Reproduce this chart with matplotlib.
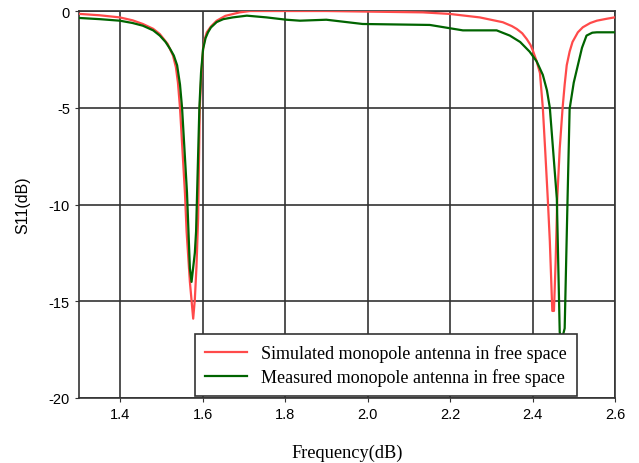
import matplotlib
matplotlib.use("Agg")
import matplotlib.pyplot as plt

# Datos (frecuencia, S11 en dB)
freq_sim = [1.302, 1.35, 1.399, 1.43, 1.455, 1.48, 1.496, 1.515, 1.528, 1.535,
            1.540, 1.545, 1.551, 1.557, 1.561, 1.569, 1.577, 1.581, 1.585, 1.589,
            1.593, 1.597, 1.601, 1.605, 1.610, 1.620, 1.634, 1.655, 1.690, 1.715,
            1.900, 2.134, 2.199, 2.272, 2.328, 2.350, 2.362, 2.375, 2.386, 2.395,
            2.401, 2.410, 2.418, 2.425, 2.431, 2.437, 2.442, 2.448, 2.452, 2.456,
            2.458, 2.460, 2.466, 2.473, 2.478, 2.483, 2.490, 2.497, 2.510, 2.522,
            2.540, 2.556, 2.580, 2.599]
s11_sim = [-0.15, -0.22, -0.33, -0.48, -0.67, -0.92, -1.19, -1.7, -2.3, -2.9,
           -3.7, -5.0, -7.2, -9.4, -11.4, -14.0, -15.9, -14.9, -13.2, -10.7,
           -5.0, -3.2, -1.96, -1.45, -1.1, -0.8, -0.5, -0.25, -0.07, 0.0,
           0.0, -0.07, -0.15, -0.33, -0.58, -0.78, -0.93, -1.15, -1.45, -1.75,
           -2.05, -2.6, -3.2, -5.0, -7.3, -9.7, -11.9, -15.5, -15.5, -13.0,
           -11.4, -9.7, -7.1, -5.0, -3.8, -2.8, -2.1, -1.6, -1.1, -0.84,
           -0.62, -0.5, -0.4, -0.33]

freq_med = [1.302, 1.35, 1.399, 1.43, 1.455, 1.48, 1.496, 1.510, 1.521, 1.530,
            1.538, 1.545, 1.550, 1.562, 1.569, 1.573, 1.581, 1.584, 1.592, 1.596,
            1.601, 1.607, 1.613, 1.620, 1.634, 1.650, 1.673, 1.707, 1.755, 1.803,
            1.836, 1.900, 1.988, 2.151, 2.231, 2.313, 2.345, 2.370, 2.393, 2.410,
            2.425, 2.435, 2.442, 2.450, 2.459, 2.466, 2.471, 2.478, 2.485, 2.490,
            2.500, 2.510, 2.520, 2.531, 2.545, 2.556, 2.599]
s11_med = [-0.36, -0.42, -0.5, -0.62, -0.76, -1.0, -1.27, -1.6, -1.96, -2.3,
           -2.8, -3.8, -5.0, -9.4, -13.3, -14.0, -12.5, -11.4, -5.0, -3.2,
           -1.96, -1.4, -1.1, -0.85, -0.57, -0.42, -0.33, -0.24, -0.33, -0.45,
           -0.5, -0.45, -0.67, -0.72, -1.0, -1.0, -1.27, -1.6, -2.1, -2.6,
           -3.3, -4.1, -5.0, -7.2, -9.7, -16.6, -17.0, -16.4, -9.7, -5.06,
           -3.7, -2.8, -1.9, -1.27, -1.12, -1.1, -1.1]

xticks = [1.4, 1.6, 1.8, 2.0, 2.2, 2.4, 2.6]
yticks = [0, -5, -10, -15, -20]

plt.rcParams['axes.unicode_minus'] = False

fig = plt.figure(figsize=(6.39, 4.64), dpi=100)
ax = fig.add_axes([0.1236, 0.1401, 0.8388, 0.834])

ax.plot(freq_sim, s11_sim, color='#ff4a4a', lw=1.6,
        label='Simulated monopole antenna in free space', zorder=3)
ax.plot(freq_med, s11_med, color='#006400', lw=1.6,
        label='Measured monopole antenna in free space', zorder=3)

ax.set_xlim(1.3, 2.6)
ax.set_ylim(-20, 0)
ax.set_xticks(xticks)
ax.set_xticklabels([f'{t:.1f}' for t in xticks], family='Liberation Sans', fontsize=10.5)
ax.set_yticks(yticks)
ax.set_yticklabels([str(t) for t in yticks], family='Liberation Sans', fontsize=10.5)
ax.tick_params(direction='out', length=3, color='#333333')
ax.grid(True, color='#333333', lw=1.2)
ax.set_axisbelow(True)
for sp in ax.spines.values():
    sp.set_color('#333333')
    sp.set_linewidth(1.2)

ax.set_xlabel('Frequency(dB)', family='Liberation Serif', fontsize=13.2, labelpad=16)
ax.set_ylabel('S11(dB)', family='Liberation Sans', fontsize=11.5, labelpad=13)

leg = ax.legend(loc='lower right', bbox_to_anchor=(0.929, 0.005),
                prop={'family': 'Liberation Serif', 'size': 13},
                frameon=True, fancybox=False, shadow=False,
                framealpha=1, edgecolor='#333333', handlelength=2.3,
                borderpad=0.55, labelspacing=0.35, borderaxespad=0)
leg.get_frame().set_linewidth(1.2)
leg.set_zorder(5)

fig.savefig('out.png', dpi=100)
